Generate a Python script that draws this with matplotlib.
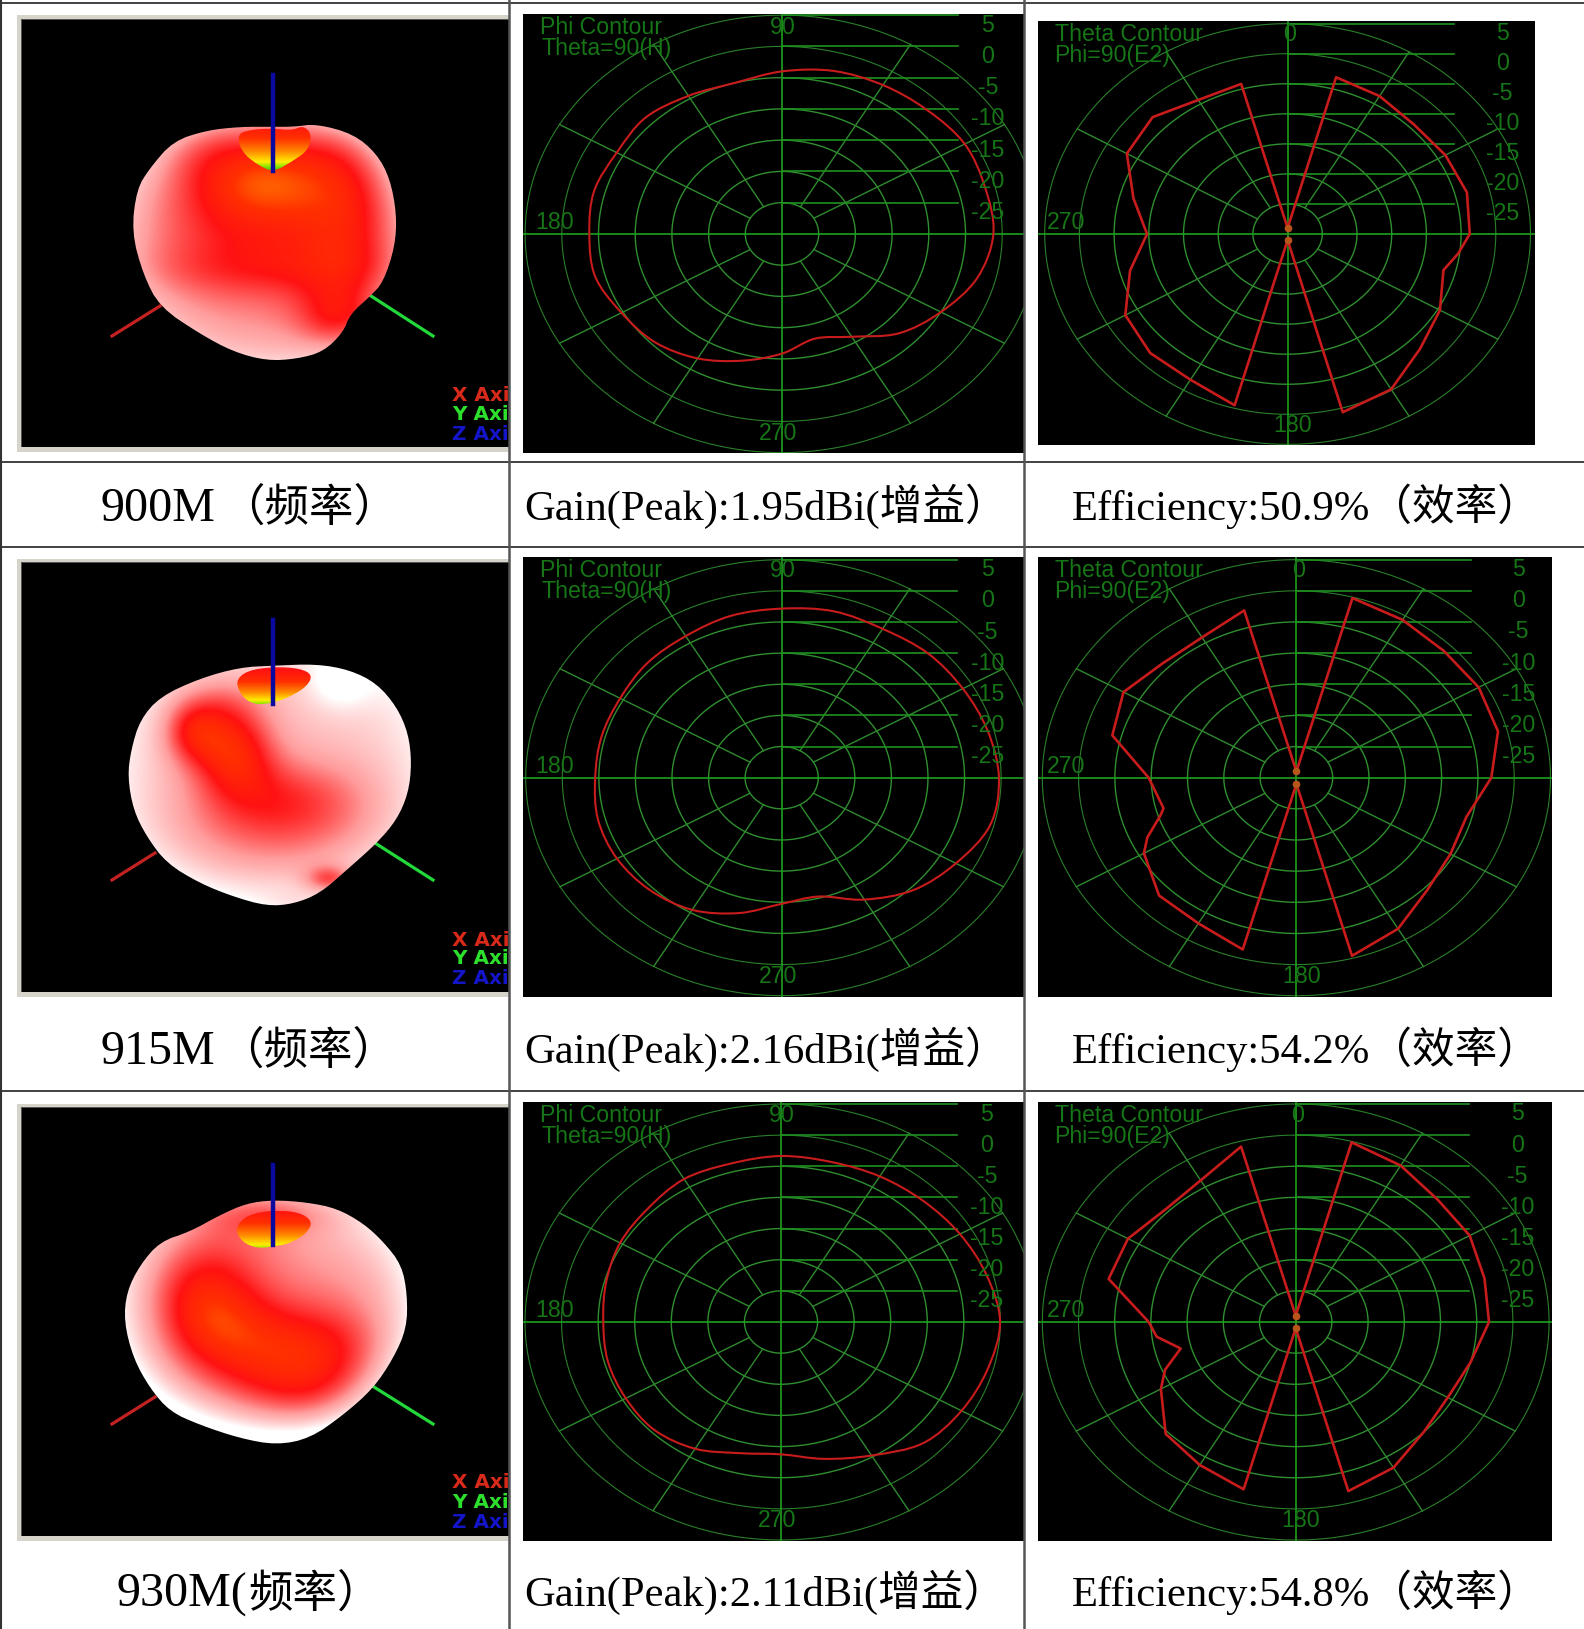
import numpy as np
import matplotlib
matplotlib.use("Agg")
import matplotlib.pyplot as plt
from matplotlib.colors import LinearSegmentedColormap
from matplotlib.patches import Polygon, Rectangle, PathPatch
from matplotlib.path import Path

W, H = 1584, 1629

# ---------- values ----------
gain_angles = list(range(0, 360, 15))
gain_900 = [-1.2, -1.35, -1.25, -2, -2.5, -3, -4, -5, -4.5, -3.7, -4, -3.5, -3.75, -3.65, -4.75, -5.5, -7, -9, -10.85, -12.65, -11, -7.5, -5, -2.5]
gain_915 = [-0.3, -0.85, -1.4, -1.75, -2.4, -2.35, -2.85, -3.1, -3.75, -4, -4.5, -4.5, -4.5, -4, -4, -4.5, -5.5, -7.5, -9.75, -10.25, -7.4, -4.5, -2.5, -0.5]
gain_930 = [-0.05, -0.9, -1.75, -2.5, -3, -3.4, -3.35, -3.65, -3.5, -4.25, -4.6, -5.25, -5.7, -5.5, -5.5, -5.5, -6.5, -8.2, -8.75, -7.25, -5.25, -2.5, -1.5, -0.75]

theta_angles_900 = [0, 15, 30, 45, 60, 75, 90, 97.5, 105, 120, 135, 150, 165, 180, 195, 210, 225, 240, 255, 270, 285, 300, 315, 330, 345]
theta_900 = [-29, -3, -3.5, -4.25, -3.75, -3.25, -3.75, -5.2, -6.75, -4.65, -3, -0.15, 0.7, -29, -0.5, -2, -2, -3, -6.5, -9.75, -7, -3.25, -2.5, -4.25, -4.15]
theta_angles_915 = [0, 15, 30, 45, 60, 75, 90, 105, 120, 135, 150, 165, 180, 195, 210, 225, 240, 245, 252, 255, 270, 285, 300, 315, 330, 345]
theta_915 = [-29, -0.15, -0.75, -1.25, -1, -1.25, -3.15, -5.75, -5.5, -4.5, -2, -0.4, -29, -1.45, -3, -3.25, -5.75, -7.35, -10.3, -11.05, -9.65, -3.75, -2.5, -4, -4, -2.2]
theta_angles_930 = [0, 15, 30, 45, 60, 75, 90, 105, 120, 135, 150, 165, 180, 195, 210, 225, 240, 247, 255, 263, 270, 285, 300, 315, 330, 345]
theta_930 = [-29, -0.15, -1, -2.25, -2.25, -3, -3.3, -5, -5.75, -5, -3, -1.9, -29, -2.2, -3.5, -4.6, -8.5, -10.4, -13.55, -10.65, -9.7, -3.25, -3.25, -4.5, -3.75, -0.85]

db_ticks = [5, 0, -5, -10, -15, -20, -25]
freq_labels = ["900M", "915M", "930M("]
freq_suffix = ["（频率）", "（频率）", "频率）"]
gain_labels = ["Gain(Peak):1.95dBi(增益）", "Gain(Peak):2.16dBi(增益）", "Gain(Peak):2.11dBi(增益）"]
eff_labels = ["Efficiency:50.9%（效率）", "Efficiency:54.2%（效率）", "Efficiency:54.8%（效率）"]

GREEN = "#167516"
SERIF = ["Liberation Serif", "Noto Sans CJK SC"]
ARIAL = "Liberation Sans"

fig = plt.figure(figsize=(W / 100, H / 100), dpi=100, facecolor="white")
page = fig.add_axes([0, 0, 1, 1])
page.set_xlim(0, W)
page.set_ylim(H, 0)
page.axis("off")


def panel(l, t, r, b, z=2):
    ax = fig.add_axes([l / W, 1 - b / H, (r - l) / W, (b - t) / H], zorder=z)
    ax.set_xticks([])
    ax.set_yticks([])
    for s in ax.spines.values():
        s.set_visible(False)
    return ax


def smooth_closed(xs, ys):
    p = np.column_stack([xs, ys])
    a, b = np.roll(p, 1, axis=0), np.roll(p, -1, axis=0)
    c = np.roll(p, -2, axis=0)
    verts, codes = [p[0]], [Path.MOVETO]
    for i in range(len(p)):
        verts += [p[i] + (b[i] - a[i]) / 6, b[i] - (c[i] - p[i]) / 6, b[i]]
        codes += [Path.CURVE4] * 3
    return Path(verts, codes)


def polar_panel(box, cx, cy, sx, sy, kind, angles, values, lab_dx, texts):
    l, t, r, b = box
    ax = panel(l, t, r, b)
    ax.set_facecolor("black")
    ax.set_xlim((l - cx) / sx * 5, (r - cx) / sx * 5)
    ax.set_ylim((cy - b) / sy * 5, (cy - t) / sy * 5)
    tt = np.radians(np.arange(0, 361, 2))
    for k in range(1, 8):
        ax.plot(k * 5 * np.cos(tt), k * 5 * np.sin(tt), color="#2f8f2f" if k < 6 else "#2a7f2a",
                lw=1.0 if k < 6 else 0.8)
    for deg in (30, 60, 120, 150, 210, 240, 300, 330):
        a = np.radians(deg)
        ax.plot([5 * np.cos(a), 35 * np.cos(a)], [5 * np.sin(a), 35 * np.sin(a)], color="#2f8a2f", lw=1.0)
    ax.plot([-36, 40], [0, 0], color="#1fa01f", lw=1.2)
    ax.plot([0, 0], [-36, 36], color="#1fa01f", lw=1.2)
    for k in range(1, 8):
        ax.plot([0, 24], [k * 5, k * 5], color="#1f911f", lw=1.2)

    a = np.radians(np.array(angles, float))
    u = np.array(values, float) + 30
    if kind == "phi":
        ax.add_patch(PathPatch(smooth_closed(u * np.cos(a), u * np.sin(a)), fc="none", ec="#c81c1c", lw=1.5, zorder=5))
    else:
        xs, ys = u * np.sin(a), u * np.cos(a)
        ax.plot(np.r_[xs, xs[0]], np.r_[ys, ys[0]], color="#c81c1c", lw=1.9, zorder=5)
        i0 = angles.index(180)
        ax.plot([xs[0], xs[i0]], [ys[0], ys[i0]], ls="", marker="o", ms=4.5, color="#b8551a", zorder=6)

    tk = dict(color=GREEN, family=ARIAL, fontsize=16.7, transform=page.transData, zorder=7)
    for i, d in enumerate(db_ticks):
        ax.text(cx + lab_dx, cy - (7 - i) * sy + 10, str(d), ha="center", va="center", **tk)
    ax.text(l + 17, t + 20, texts[0], ha="left", va="baseline", **tk)
    ax.text(l + 17 + texts[3], t + 41, texts[1], ha="left", va="baseline", **tk)
    top_lab, left_lab, bot_lab = texts[2]
    ax.text(cx + (1 if kind == "phi" else 2), t + 20, top_lab, ha="center", va="baseline", **tk)
    ax.text(l + (12 if kind == "phi" else 9), cy - 5, left_lab, ha="left", va="baseline", **tk)
    ax.text(cx + (-4 if kind == "phi" else 5), cy + 6.58 * sy, bot_lab, ha="center", va="baseline", **tk)
    return ax


def chaikin(xy, n=2):
    p = np.asarray(xy, float)
    for _ in range(n):
        q = np.roll(p, -1, axis=0)
        p = np.column_stack([0.75 * p + 0.25 * q, 0.25 * p + 0.75 * q]).reshape(-1, 2)
    return p


cmap = LinearSegmentedColormap.from_list("gain", [(0, "#ffffff"), (0.33, "#ff9c9c"), (0.58, "#ff1212"),
                                                  (0.72, "#ff3000"), (0.84, "#ff8c00"), (0.93, "#ffee00"), (1, "#40e000")])


def blob_panel(frame, black, outline, crater, spots, base, edge, crater_range, ctr, blue, red, green, leg_y):
    fl, ft, fb = frame
    page.add_patch(Rectangle((fl, ft), 509 - fl, fb - ft, fc="#d6d3ca", ec="none"))
    bl, bt, bb = black
    page.add_patch(Rectangle((bl - 1, bt - 1), 509 - bl + 1, bb - bt + 1, fc="#555555", ec="none"))
    ax = panel(bl, bt, 509, bb)
    ax.set_facecolor("black")
    ax.set_xlim(bl, 509)
    ax.set_ylim(bb, bt)
    ax.plot(red[0], red[1], color="#c42222", lw=2.3, zorder=1)
    ax.plot(green[0], green[1], color="#22d83a", lw=2.3, zorder=1)
    gx = np.linspace(100, 420, 330)
    gy = np.linspace(bt, bb, 440)
    X, Y = np.meshgrid(gx, gy)
    v = np.full(X.shape, base, float)
    for x0, y0, sx0, sy0, amp in spots:
        v += amp * np.exp(-((X - x0) ** 2 / (2 * sx0 ** 2) + (Y - y0) ** 2 / (2 * sy0 ** 2)))
    d = np.hypot((X - ctr[0]) / 135, (Y - ctr[1]) / 115)
    v -= edge * np.clip(d, 0, 1.3) ** 4
    im = ax.imshow(np.clip(v, 0, 1), extent=(100, 420, bb, bt), origin="upper", cmap=cmap, vmin=0, vmax=1,
                   aspect="auto", zorder=2, interpolation="bilinear")
    pg = Polygon(chaikin(outline), closed=True, transform=ax.transData, fc="none", ec="none")
    ax.add_patch(pg)
    im.set_clip_path(pg)
    cp = chaikin(crater)
    cy0, cy1 = cp[:, 1].min(), cp[:, 1].max()
    cf = np.linspace(crater_range[0], crater_range[1], 80)[:, None]
    im2 = ax.imshow(cf, extent=(cp[:, 0].min(), cp[:, 0].max(), cy1, cy0), origin="upper", cmap=cmap, vmin=0, vmax=1,
                    aspect="auto", zorder=3, interpolation="bilinear")
    pg2 = Polygon(cp, closed=True, transform=ax.transData, fc="none", ec="none")
    ax.add_patch(pg2)
    im2.set_clip_path(pg2)
    ax.set_xlim(bl, 509)
    ax.set_ylim(bb, bt)
    ax.plot(blue[0], blue[1], color="#0a0aa0", lw=3.2, zorder=4)
    for txt, col, y in zip(["X Axis", "Y Axis", "Z Axis"], ["#d82a1a", "#2ce02c", "#1414c8"], leg_y):
        ax.text(452, y, txt, color=col, family="DejaVu Sans", weight="bold", fontsize=14.4, va="center", ha="left",
                clip_on=True, zorder=5)
    return ax


def z1(pts):
    return [(x / 3, y / 2.8) for x, y in pts]


def z2(pts, y0):
    return [(x / 3, y0 + y / 3) for x, y in pts]


blob_panel(
    (16.7, 15, 452), (21.7, 20.4, 447),
    z1([(720, 355), (820, 355), (880, 355), (950, 347), (1060, 375), (1130, 430), (1170, 500), (1190, 600), (1185, 690),
        (1150, 790), (1110, 830), (1050, 880), (1030, 930), (970, 985), (890, 1005), (800, 1010), (700, 985), (600, 935),
        (480, 860), (430, 770), (395, 650), (410, 530), (450, 470), (520, 395), (620, 365)]),
    z1([(710, 375), (760, 362), (820, 360), (875, 365), (910, 352), (935, 375), (925, 420), (880, 450), (820, 482), (770, 460), (725, 425)]),
    [(268, 205, 75, 50, 0.24), (258, 185, 42, 24, 0.13), (350, 225, 36, 85, 0.17), (272, 270, 120, 20, 0.10),
     (340, 320, 30, 22, 0.22), (310, 150, 60, 30, 0.10), (200, 145, 40, 25, 0.12)],
    0.38, 0.20, (0.62, 1.0), (265, 240),
    ([273, 273], [75, 171]), ([112, 160], [336, 306]), ([371, 433], [296, 336]), [395, 414.5, 434])

blob_panel(
    (16.7, 559, 996.7), (21.7, 563.3, 991.7),
    z2([(820, 347), (950, 342), (1050, 360), (1130, 400), (1190, 470), (1225, 550), (1235, 640), (1225, 730), (1190, 810),
        (1130, 880), (1040, 960), (960, 1030), (880, 1062), (800, 1068), (700, 1040), (600, 1000), (500, 940), (440, 860),
        (400, 780), (383, 680), (393, 600), (420, 510), (480, 440), (600, 385), (720, 352)], 550),
    z2([(705, 395), (740, 362), (820, 350), (900, 355), (938, 375), (920, 410), (870, 440), (820, 458), (770, 465), (730, 445)], 550),
    [(233, 748, 30, 32, 0.42), (190, 730, 22, 24, 0.32), (222, 700, 30, 20, 0.12), (285, 795, 62, 30, 0.24),
     (275, 840, 100, 38, 0.20), (330, 880, 18, 10, 0.38), (300, 905, 30, 10, 0.15), (340, 680, 22, 20, -0.25)],
    0.19, 0.12, (0.55, 0.97), (270, 760),
    ([273, 273], [620, 704]), ([112, 155], [880, 853]), ([375, 433], [843, 880]), [940, 959, 978])

blob_panel(
    (16.7, 1104, 1541), (21.7, 1108.3, 1536),
    z2([(820, 315), (920, 322), (1010, 340), (1090, 385), (1150, 440), (1205, 510), (1222, 600), (1220, 700), (1180, 790),
        (1120, 880), (1030, 960), (930, 1030), (830, 1050), (720, 1030), (600, 990), (510, 950), (450, 880), (400, 790),
        (372, 680), (380, 590), (420, 510), (480, 440), (570, 410), (660, 360), (740, 325)], 1095),
    z2([(705, 400), (740, 360), (820, 345), (900, 352), (938, 380), (920, 415), (870, 445), (820, 455), (770, 460), (725, 440)], 1095),
    [(190, 1292, 34, 38, 0.15), (222, 1313, 38, 34, 0.16), (285, 1342, 75, 30, 0.20), (325, 1400, 55, 42, 0.24),
     (240, 1395, 100, 38, 0.14), (273, 1215, 50, 14, 0.16), (225, 1260, 35, 50, 0.06), (340, 1230, 40, 30, -0.06)],
    0.36, 0.28, (0.6, 0.96), (265, 1295),
    ([273, 273], [1165, 1245]), ([112, 155], [1424, 1397]), ([374, 433], [1387, 1424]), [1483, 1503, 1523])

# ---------- polar panels ----------
phi_txt = ("Phi Contour", "Theta=90(H)", ("90", "180", "270"), 1)
th_txt = ("Theta Contour", "Phi=90(E2)", ("0", "270", "180"), -1)
polar_panel((523, 13.6, 1024, 452.5), 782, 233.9, 36.7, 31.25, "phi", gain_angles, gain_900, 206, phi_txt)
polar_panel((523, 557, 1024, 997), 781.7, 777.7, 36.57, 31.14, "phi", gain_angles, gain_915, 206, phi_txt)
polar_panel((523, 1102, 1024, 1540.7), 781, 1322, 36.57, 31.14, "phi", gain_angles, gain_930, 206, phi_txt)
polar_panel((1038, 21, 1535, 444.6), 1287.6, 234, 34.7, 30.05, "theta", theta_angles_900, theta_900, 215, th_txt)
polar_panel((1038, 557, 1552, 997), 1296.4, 777.7, 36.3, 31.15, "theta", theta_angles_915, theta_915, 222, th_txt)
polar_panel((1038, 1102, 1552, 1540.7), 1295.7, 1322, 36.2, 31.15, "theta", theta_angles_930, theta_930, 222, th_txt)

# ---------- table rules ----------
over = fig.add_axes([0, 0, 1, 1], zorder=5)
over.set_xlim(0, W)
over.set_ylim(H, 0)
over.axis("off")
over.patch.set_alpha(0)
for y in (3, 462, 546.5, 1091):
    over.plot([0, W], [y, y], color="#333333", lw=1.3)
over.plot([1, 1], [0, H], color="#333333", lw=1.5)
over.plot([509, 509], [0, H], color="#555555", lw=1.8)
over.plot([1024, 1024], [0, H], color="#555555", lw=1.8)

# ---------- captions ----------
base_y = [521, 1064, 1607]
left_x = [101, 101, 117]
for i in range(3):
    t1 = over.text(left_x[i], base_y[i], freq_labels[i], family=SERIF, fontsize=34.6, color="black", va="baseline")
    fig.canvas.draw()
    ext = t1.get_window_extent()
    over.text(ext.x1 + (4 if i < 2 else 1), base_y[i], freq_suffix[i], family=SERIF, fontsize=32, color="black", va="baseline")
    over.text(524.5, base_y[i] - 1, gain_labels[i], family=SERIF, fontsize=30.7, color="black", va="baseline")
    over.text(1072, base_y[i] - 1, eff_labels[i], family=SERIF, fontsize=30.7, color="black", va="baseline")

fig.savefig("out.png", dpi=100, facecolor="white")
